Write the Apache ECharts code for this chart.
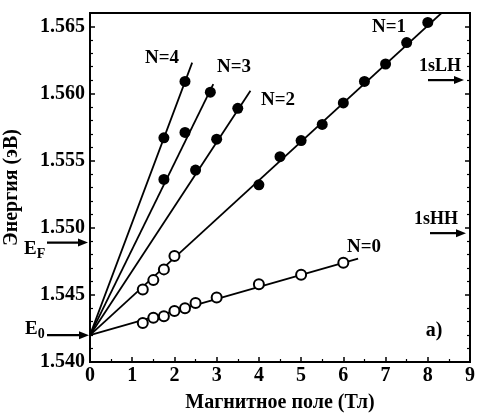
<!DOCTYPE html>
<html><head><meta charset="utf-8">
<script src="https://cdn.jsdelivr.net/npm/echarts@6/dist/echarts.min.js"></script>
<style>html,body{margin:0;padding:0;background:#fff}#c{width:479px;height:413px}</style>
</head><body><div id="c"></div>
<script>
// ---- data ----
const n0B = [1.25, 1.5, 1.75, 2.0, 2.25, 2.5, 3.0, 4.0, 5.0, 6.0];
const n0E = [1.5429, 1.5433, 1.5434, 1.5438, 1.5440, 1.5444, 1.5448, 1.5458, 1.5465, 1.5474];
const n1OpenB = [1.25, 1.5, 1.75, 2.0];
const n1OpenE = [1.5454, 1.5461, 1.5469, 1.5479];
const n1B = [4.0, 4.5, 5.0, 5.5, 6.0, 6.5, 7.0, 7.5, 8.0];
const n1E = [1.5532, 1.5553, 1.5565, 1.5577, 1.5593, 1.5609, 1.5622, 1.5638, 1.5653];
const n2B = [2.5, 3.0, 3.5];
const n2E = [1.5543, 1.5566, 1.5589];
const n3B = [1.75, 2.25, 2.85];
const n3E = [1.5536, 1.5571, 1.5601];
const n4B = [1.75, 2.25];
const n4E = [1.5567, 1.5609];
// fitted lines: common origin E0 and end points
const fitOrigin = [0, 1.542];
const fitEndB = [6.35, 8.5, 3.8, 2.92, 2.42];
const fitEndE = [1.5477, 1.5665, 1.5602, 1.5607, 1.5623];
// reference levels
const levelE0 = 1.542;
const levelEF = 1.5489;
const level1sLH = 1.5610;
const level1sHH = 1.5496;
const xTicks = [0, 1, 2, 3, 4, 5, 6, 7, 8, 9];
const yMajor = [1.540, 1.545, 1.550, 1.555, 1.560, 1.565];

const FONT = '"Liberation Serif", "DejaVu Serif", serif';
const zip = (a, b) => a.map((v, i) => [v, b[i]]);

const chart = echarts.init(document.getElementById('c'), null, {renderer: 'canvas'});

const filled = (name, B, E) => ({
  name, type: 'scatter', data: zip(B, E), symbol: 'circle', symbolSize: 11,
  itemStyle: {color: '#000', opacity: 1}, z: 5
});
const open = (name, B, E) => ({
  name, type: 'scatter', data: zip(B, E), symbol: 'circle', symbolSize: 10,
  itemStyle: {color: '#fff', borderColor: '#000', borderWidth: 2, opacity: 1}, z: 5
});
const fits = fitEndB.map((b, i) => ({
  type: 'line', data: [fitOrigin, [b, fitEndE[i]]], showSymbol: false, symbol: 'none',
  lineStyle: {color: '#000', width: 1.8}, clip: true, z: 3, silent: true
}));

const option = {
  backgroundColor: '#fff',
  animation: false,
  grid: {left: 90, right: 9, top: 13, bottom: 51, show: true, borderColor: '#000', borderWidth: 1.8,
    containLabel: false, outerBoundsMode: 'none'},
  xAxis: {
    type: 'value', min: 0, max: 9, interval: 1,
    name: 'Магнитное поле (Тл)', nameLocation: 'middle', nameGap: 31,
    nameTextStyle: {fontFamily: FONT, fontWeight: 'bold', fontSize: 20, color: '#000'},
    axisLine: {lineStyle: {color: '#000', width: 1.8}},
    axisTick: {inside: true, length: 5, lineStyle: {color: '#000', width: 1.5}},
    minorTick: {show: true, splitNumber: 2, length: 3, lineStyle: {color: '#000', width: 1.2}},
    splitLine: {show: false},
    axisLabel: {fontFamily: FONT, fontWeight: 'bold', fontSize: 20, color: '#000', margin: 4,
      formatter: v => xTicks.includes(v) ? String(v) : ''}
  },
  yAxis: [{
    type: 'value', min: 1.540, max: 1.566, interval: 0.005, position: 'left',
    name: 'Энергия (эВ)', nameLocation: 'middle', nameGap: 68, nameRotate: 90,
    nameTextStyle: {fontFamily: FONT, fontWeight: 'bold', fontSize: 20, color: '#000'},
    axisLine: {lineStyle: {color: '#000', width: 1.8}},
    axisTick: {inside: true, length: 5, lineStyle: {color: '#000', width: 1.5}},
    minorTick: {show: true, splitNumber: 5, length: 3, lineStyle: {color: '#000', width: 1.2}},
    splitLine: {show: false},
    axisLabel: {fontFamily: FONT, fontWeight: 'bold', fontSize: 20, color: '#000', margin: 5,
      formatter: v => yMajor.some(t => Math.abs(t - v) < 1e-7) ? v.toFixed(3) : '',
      showMaxLabel: false}
  }, {
    type: 'value', min: 1.540, max: 1.566, interval: 0.005, position: 'right',
    axisLine: {show: true, lineStyle: {color: '#000', width: 1.8}},
    axisTick: {inside: true, length: 5, lineStyle: {color: '#000', width: 1.5}},
    minorTick: {show: true, splitNumber: 5, length: 3, lineStyle: {color: '#000', width: 1.2}},
    splitLine: {show: false},
    axisLabel: {show: false}
  }],
  series: [
    ...fits,
    open('N=0', n0B, n0E),
    open('N=1 open', n1OpenB, n1OpenE),
    filled('N=1', n1B, n1E),
    filled('N=2', n2B, n2E),
    filled('N=3', n3B, n3E),
    filled('N=4', n4B, n4E)
  ]
};
chart.setOption(option);

const yPx = e => chart.convertToPixel({yAxisIndex: 0}, e);
const arrow = (x1, x2, y) => ([
  {type: 'line', shape: {x1, y1: y, x2: x2 - 8, y2: y}, style: {stroke: '#000', lineWidth: 2.2}, z: 10},
  {type: 'polygon', shape: {points: [[x2, y], [x2 - 10, y - 4], [x2 - 10, y + 4]]}, style: {fill: '#000'}, z: 10}
]);
const txt = (text, x, y, size, extra) => Object.assign({
  type: 'text', x, y, z: 10,
  style: {text, fontFamily: FONT, fontWeight: 'bold', fontSize: size || 19, fill: '#000',
    textAlign: 'center', textVerticalAlign: 'middle'}
}, extra || {});
const sub = (main, s, x, y) => ({
  type: 'text', x, y, z: 10,
  style: {
    text: '{m|' + main + '}{s|' + s + '}', fontFamily: FONT, fontWeight: 'bold', fill: '#000',
    textAlign: 'left', textVerticalAlign: 'middle',
    rich: {m: {fontFamily: FONT, fontWeight: 'bold', fontSize: 19, fill: '#000'},
           s: {fontFamily: FONT, fontWeight: 'bold', fontSize: 14, fill: '#000', padding: [10, 0, 0, 0]}}
  }
});

const yE0 = yPx(levelE0), yEF = yPx(levelEF), yLH = yPx(level1sLH), yHH = yPx(level1sHH);
chart.setOption({
  graphic: [
    ...arrow(47, 88, yEF),
    ...arrow(47, 89, yE0),
    ...arrow(428, 464, yLH),
    ...arrow(430, 466, yHH),
    sub('E', 'F', 24, yEF + 7),
    sub('E', '0', 25, yE0 - 6),
    txt('N=4', 162, 58),
    txt('N=3', 234, 67),
    txt('N=2', 278, 100),
    txt('N=1', 389, 27),
    txt('N=0', 364, 247),
    txt('1sLH', 440, 66, 18),
    txt('1sHH', 436, 219, 18),
    txt('a)', 434, 331, 20)
  ]
});
</script>
</body></html>
